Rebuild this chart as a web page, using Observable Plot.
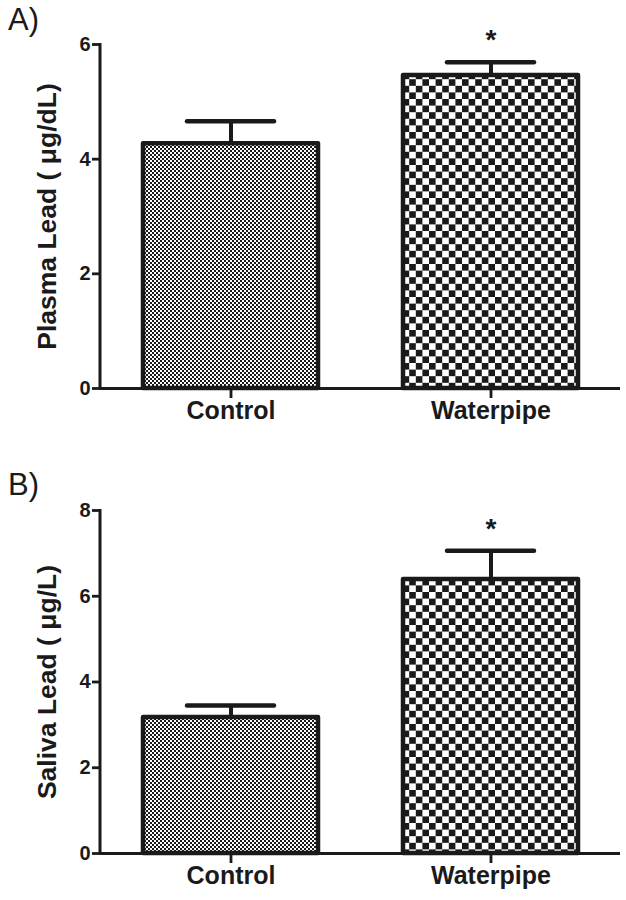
<!DOCTYPE html>
<html>
<head>
<meta charset="utf-8">
<script src="https://cdn.jsdelivr.net/npm/d3@7"></script>
<script src="https://cdn.jsdelivr.net/npm/@observablehq/plot@0.6"></script>
<style>
  html, body { margin: 0; padding: 0; background: #fff; }
  #wrap { position: relative; width: 626px; height: 900px; font-family: "Liberation Sans", Arial, sans-serif; }
  .panel-label { position: absolute; font-size: 31px; line-height: 1; color: #1a1a1a; font-family: "Liberation Sans", Arial, sans-serif; }
  svg { display: block; }
  svg g[aria-label="y-axis tick"] path, svg g[aria-label="x-axis tick"] path { stroke-width: 2.8px; }
</style>
</head>
<body>
<div id="wrap"></div>
<script>
// ---- Data ----
const groups = ["Control", "Waterpipe"];
const plasmaMean = [4.27, 5.46];
const plasmaSem = [0.39, 0.23];
const salivaMean = [3.17, 6.39];
const salivaSem = [0.28, 0.67];
const plasmaTicks = [0, 2, 4, 6];
const salivaTicks = [0, 2, 4, 6, 8];
const plasmaSig = ["", "*"];
const salivaSig = ["", "*"];

const INK = "#1a1a1a";
const NS = "http://www.w3.org/2000/svg";

function patternDefs() {
  const defs = document.createElementNS(NS, "defs");
  function checker(id, cell) {
    const p = document.createElementNS(NS, "pattern");
    p.setAttribute("id", id);
    p.setAttribute("patternUnits", "userSpaceOnUse");
    p.setAttribute("width", 2 * cell);
    p.setAttribute("height", 2 * cell);
    const bg = document.createElementNS(NS, "rect");
    bg.setAttribute("width", 2 * cell); bg.setAttribute("height", 2 * cell); bg.setAttribute("fill", "#fff");
    p.appendChild(bg);
    for (const [x, y] of [[0, 0], [cell, cell]]) {
      const r = document.createElementNS(NS, "rect");
      r.setAttribute("x", x); r.setAttribute("y", y);
      r.setAttribute("width", cell); r.setAttribute("height", cell);
      r.setAttribute("fill", INK);
      p.appendChild(r);
    }
    defs.appendChild(p);
  }
  checker("fineChk", 2);
  checker("coarseChk", 6.6);
  return defs;
}

// vertical y-axis line along the left edge of the frame
function yAxisLine(index, scales, values, dims) {
  const l = document.createElementNS(NS, "line");
  const x = dims.marginLeft;
  l.setAttribute("x1", x); l.setAttribute("x2", x);
  l.setAttribute("y1", dims.marginTop - 1);
  l.setAttribute("y2", dims.height - dims.marginBottom);
  l.setAttribute("stroke", INK);
  l.setAttribute("stroke-width", 3);
  return l;
}

function panel({means, sems, sig, ticks, ymax, label, height, marginTop, marginBottom}) {
  const data = groups.map((g, i) => ({group: g, mean: means[i], hi: means[i] + sems[i], sig: sig[i]}));
  return Plot.plot({
    width: 626,
    height,
    marginTop,
    marginBottom,
    marginLeft: 100,
    marginRight: 6,
    style: {fontFamily: "Liberation Sans, Arial, sans-serif", color: INK, background: "#fff", overflow: "visible"},
    x: {domain: groups, paddingInner: 0.327, paddingOuter: 0.1635, label: null},
    y: {domain: [0, ymax], label: null},
    color: {type: "identity"},
    marks: [
      () => patternDefs(),
      Plot.ruleX(data, {x: "group", y1: "mean", y2: "hi", stroke: INK, strokeWidth: 4}),
      Plot.tickY(data, {x: "group", y: "hi", stroke: INK, strokeWidth: 4.5, strokeLinecap: "round", inset: 44}),
      Plot.barY(data, {
        x: "group", y: "mean",
        fill: d => d.group === groups[0] ? "url(#fineChk)" : "url(#coarseChk)",
        stroke: INK, strokeWidth: 4.5, strokeLinejoin: "round"
      }),
      Plot.text(data, {x: "group", y: "hi", text: "sig", dy: -22, fontSize: 28, fontWeight: "bold", fill: INK}),
      Plot.ruleY([0], {stroke: INK, strokeWidth: 3}),
      yAxisLine,
      Plot.axisY({ticks, tickSize: 8, tickPadding: 2, tickFormat: d3.format("d"), fontSize: 20, fontWeight: "bold", strokeWidth: 2.8, label: null}),
      Plot.axisX({tickSize: 10, tickPadding: 3, fontSize: 25, fontWeight: "bold", strokeWidth: 2.8, label: null}),
      Plot.text([label], {frameAnchor: "left", textAnchor: "middle", rotate: -90, dx: -53, fontSize: 26.5, fontWeight: "bold", fill: INK})
    ]
  });
}

const wrap = document.getElementById("wrap");
const a = panel({means: plasmaMean, sems: plasmaSem, sig: plasmaSig, ticks: plasmaTicks, ymax: 6,
  label: "Plasma Lead ( μg/dL)", height: 460, marginTop: 44, marginBottom: 72});
const b = panel({means: salivaMean, sems: salivaSem, sig: salivaSig, ticks: salivaTicks, ymax: 8,
  label: "Saliva Lead ( μg/L)", height: 440, marginTop: 50, marginBottom: 47});
wrap.appendChild(a);
wrap.appendChild(b);

const la = document.createElement("div");
la.className = "panel-label"; la.textContent = "A)"; la.style.left = "8px"; la.style.top = "4px";
const lb = document.createElement("div");
lb.className = "panel-label"; lb.textContent = "B)"; lb.style.left = "8px"; lb.style.top = "469px";
wrap.appendChild(la);
wrap.appendChild(lb);
</script>
</body>
</html>
